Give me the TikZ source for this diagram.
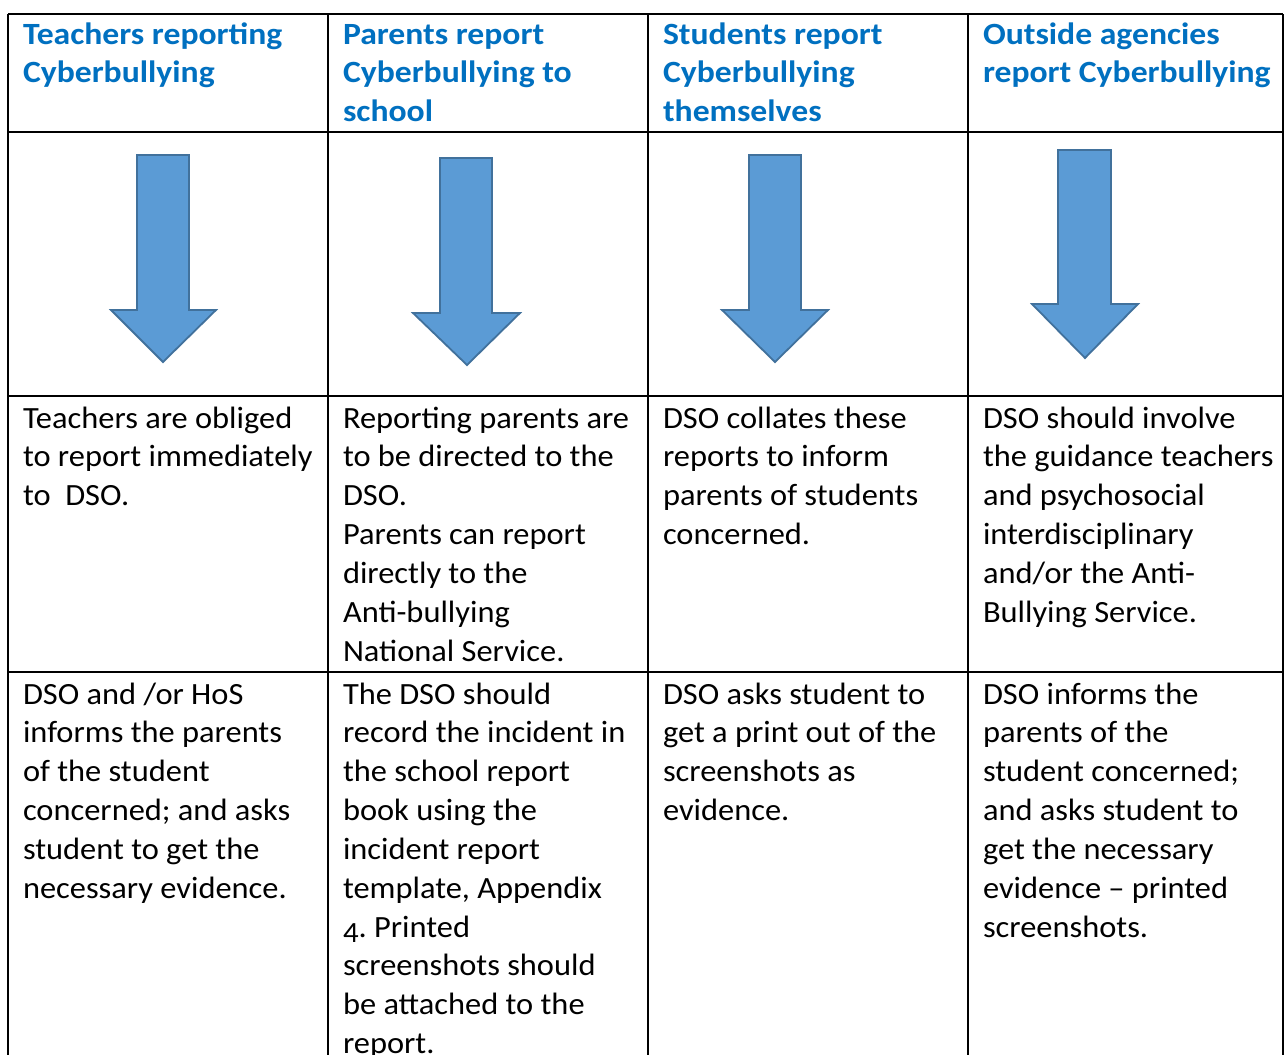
\documentclass[tikz,border=0pt]{standalone}
\usepackage{fontspec}
\setmainfont{Carlito}[FakeStretch=1.05, BoldFeatures={FakeStretch=1.09}]
\definecolor{hdrblue}{HTML}{0070C0}
\definecolor{arrfill}{HTML}{5B9BD5}
\definecolor{arrline}{HTML}{41719C}
\frenchspacing
\newcommand{\celltext}[1]{\parbox[t]{310bp}{\raggedright\frenchspacing #1}}
\newcommand{\oldfour}{\raisebox{-0.17em}{\scalebox{0.95}{4}}}
\begin{document}
\begin{tikzpicture}[x=1bp,y=-1bp,
  cell/.style={anchor=base west, inner sep=0pt, outer sep=0pt,
    font=\fontsize{31}{39}\selectfont},
  hdr/.style={cell, text=hdrblue, font=\fontsize{31}{39}\selectfont\bfseries},
  grid/.style={line width=1.3bp, black},
  bigarrow/.style={fill=arrfill, draw=arrline, line width=1.8bp, line join=miter}]
\useasboundingbox (0,0) rectangle (1288,1055);
\fill[white] (0,0) rectangle (1288,1055);
\clip (0,0) rectangle (1288,1055);

% grid
\draw[grid] (8,14) -- (1283,14);
\draw[grid] (8,132) -- (1283,132);
\draw[grid] (8,396) -- (1283,396);
\draw[grid] (8,672) -- (1283,672);
\foreach \x in {8,328,648,968,1283} \draw[grid] (\x,14) -- (\x,1060);

% headers
\node[hdr] (h1) at (23,44) {\celltext{Teachers reporting\\Cyberbullying}};
\node[hdr] (h2) at (343,44) {\celltext{Parents report\\Cyberbullying to\\school}};
\node[hdr] (h3) at (663,44) {\celltext{Students report\\Cyberbullying\\themselves}};
\node[hdr] (h4) at (983,44) {\celltext{Outside agencies\\report Cyberbullying}};

% arrows
\draw[bigarrow] (137,155) -- (189,155) -- (189,310) -- (216,310) -- (163,362) -- (111,310) -- (137,310) -- cycle;
\draw[bigarrow] (440,158) -- (492,158) -- (492,313) -- (520,313) -- (467,365) -- (413,313) -- (440,313) -- cycle;
\draw[bigarrow] (749,155) -- (801,155) -- (801,310) -- (828,310) -- (775,362) -- (722,310) -- (749,310) -- cycle;
\draw[bigarrow] (1058,150) -- (1111,150) -- (1111,304) -- (1138,304) -- (1085,358) -- (1032,304) -- (1058,304) -- cycle;

% row 2
\node[cell] (b1) at (23,428) {\celltext{Teachers are obliged\\to report immediately\\to\ \ DSO.}};
\node[cell] (b2) at (343,428) {\celltext{Reporting parents are\\to be directed to the\\DSO.\\Parents can report\\directly to the\\Anti-bullying\\National Service.}};
\node[cell] (b3) at (663,428) {\celltext{DSO collates these\\reports to inform\\parents of students\\concerned.}};
\node[cell] (b4) at (983,428) {\celltext{DSO should involve\\the guidance teachers\\and psychosocial\\interdisciplinary\\and/or the Anti-\\Bullying Service.}};

% row 3
\node[cell] (c1) at (23,704) {\celltext{DSO and /or HoS\\informs the parents\\of the student\\concerned; and asks\\student to get the\\necessary evidence.}};
\node[cell] (c2) at (343,704) {\celltext{The DSO should\\record the incident in\\the school report\\book using the\\incident report\\template, Appendix\\\oldfour. Printed\\screenshots should\\be attached to the\\report.}};
\node[cell] (c3) at (663,704) {\celltext{DSO asks student to\\get a print out of the\\screenshots as\\evidence.}};
\node[cell] (c4) at (983,704) {\celltext{DSO informs the\\parents of the\\student concerned;\\and asks student to\\get the necessary\\evidence -- printed\\screenshots.}};
\end{tikzpicture}
\end{document}
